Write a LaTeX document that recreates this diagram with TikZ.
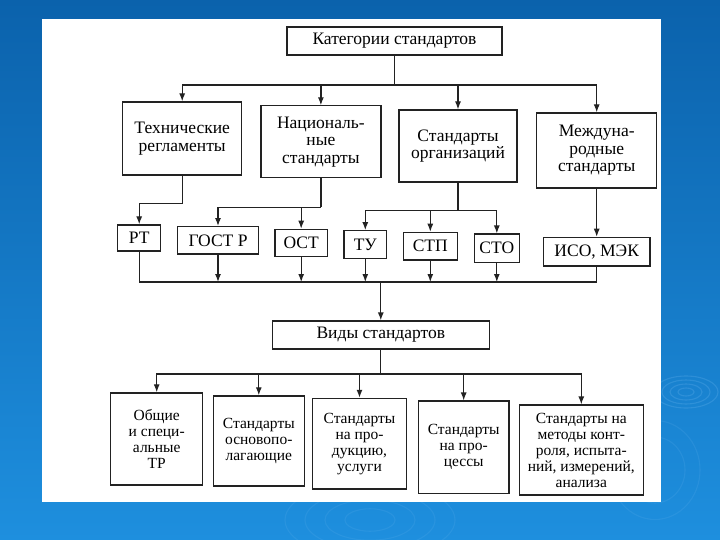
\documentclass[tikz,border=0pt]{standalone}
\usepackage{fontspec}
\setmainfont{Liberation Serif}
\usetikzlibrary{arrows.meta,calc}
\definecolor{ink}{HTML}{222222}
\definecolor{bgtop}{HTML}{0B62AC}
\definecolor{bgbot}{HTML}{1E8FDE}
\definecolor{ripple}{HTML}{6FB8F0}
\begin{document}
\begin{tikzpicture}[x=1pt,y=-1pt,
  box/.style={draw=ink, line width=1.2pt, fill=white, align=center, inner sep=0pt,
    text=black, font=\fontsize{17.5}{17.5}\selectfont},
  smallbox/.style={box, font=\fontsize{15.5}{16}\selectfont},
  ln/.style={draw=ink, line width=1.2pt},
  arr/.style={ln, -{Latex[length=8pt,width=6pt]}},
  rip/.style={draw=ripple, line width=1.1pt, opacity=0.25}]
\useasboundingbox (0,0) rectangle (720,540);
% background
\shade[top color=bgtop, bottom color=bgbot] (0,0) rectangle (720,540);
\foreach \r in {8,16,24,32} {\draw[rip] (686,392) ellipse ({\r pt} and {0.5*\r pt});}
\foreach \r in {30,45} {\draw[rip, opacity=0.15] (655,470) ellipse ({\r pt} and {1.1*\r pt});}
\foreach \r in {25,45,65,85} {\draw[rip, opacity=0.15] (370,520) ellipse ({\r pt} and {0.45*\r pt});}
% white panel
\fill[white] (42,19) rectangle (661,502);

% top level
\node[box, minimum width=215pt, minimum height=28pt] (cat) at (394.5,41) {Категории стандартов};

\node[box, minimum width=119pt, minimum height=73pt] (tech) at (182.2,138.5) {Технические\\регламенты};
\node[box, minimum width=120pt, minimum height=72pt] (nat) at (320.9,141.9) {Националь-\\ные\\стандарты};
\node[box, minimum width=118pt, minimum height=72pt] (org) at (458,146) {Стандарты\\организаций};
\node[box, minimum width=120pt, minimum height=75pt] (intl) at (596.7,150.5) {Междуна-\\родные\\стандарты};

% middle row
\node[box, minimum width=43pt, minimum height=26pt] (rt) at (139.2,238) {РТ};
\node[box, minimum width=80.6pt, minimum height=27.3pt] (gostr) at (218,240.3) {ГОСТ Р};
\node[box, minimum width=52.3pt, minimum height=27.4pt] (ost) at (301.2,243) {ОСТ};
\node[box, minimum width=42.7pt, minimum height=27.6pt] (tu) at (365.3,244.5) {ТУ};
\node[box, minimum width=54pt, minimum height=27.7pt] (stp) at (430.3,246.2) {СТП};
\node[box, minimum width=45pt, minimum height=28.3pt] (sto) at (496.8,248.2) {СТО};
\node[box, minimum width=106.4pt, minimum height=28.7pt] (iso) at (596.7,251.7) {ИСО, МЭК};

% types
\node[box, minimum width=217pt, minimum height=28pt] (vid) at (380.8,335) {Виды стандартов};

\node[smallbox, minimum width=92pt, minimum height=92pt] (b1) at (156.7,438.9) {Общие\\и специ-\\альные\\ТР};
\node[smallbox, minimum width=91pt, minimum height=90pt] (b2) at (258.8,440.9) {Стандарты\\основопо-\\лагающие};
\node[smallbox, minimum width=93.6pt, minimum height=90.7pt] (b3) at (359.5,443.7) {Стандарты\\на про-\\дукцию,\\услуги};
\node[smallbox, minimum width=90.7pt, minimum height=92.3pt] (b4) at (463.7,447.2) {Стандарты\\на про-\\цессы};
\node[smallbox, minimum width=124pt, minimum height=90pt] (b5) at (581.3,450) {Стандарты на\\методы конт-\\роля, испыта-\\ний, измерений,\\анализа};

% connectors: categories
\coordinate (bus1) at (cat.south |- 0,85);
\draw[ln] (cat.south) -- (bus1);
\foreach \n in {tech,nat,org,intl} {\draw[arr] (bus1) -| (\n.north);}

% categories -> designations
\draw[arr] (tech.south) -- ++(0,28) -| (rt.north);
\draw[ln] (nat.south) -- ++(0,29) coordinate (nb);
\draw[arr] (nb) -| (gostr.north);
\draw[arr] (nb) -| (ost.north);
\draw[ln] (org.south) -- ++(0,28) coordinate (ob);
\foreach \n in {tu,stp,sto} {\draw[arr] (ob) -| (\n.north);}
\draw[arr] (intl.south) -- (iso.north);

% collector
\coordinate (cb) at (vid.north |- 0,282);
\draw[ln] (rt.south) -- (rt.south |- cb) -- (iso.south |- cb) -- (iso.south);
\foreach \n in {gostr,ost,tu,stp,sto} {\draw[arr] (\n.south) -- (\n.south |- cb);}
\draw[arr] (cb) -- (vid.north);

% types
\coordinate (bus2) at (vid.south |- 0,374);
\draw[ln] (vid.south) -- (bus2);
\foreach \n in {b1,b2,b3,b4,b5} {\draw[arr] (bus2) -| (\n.north);}
\end{tikzpicture}
\end{document}
